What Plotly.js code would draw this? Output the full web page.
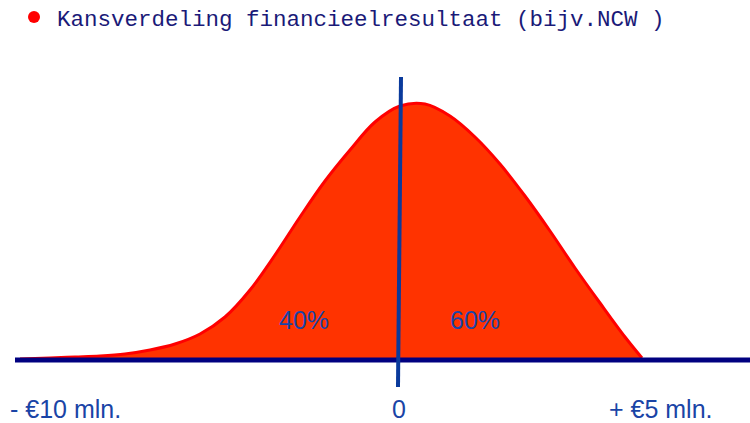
<!DOCTYPE html>
<html>
<head>
<meta charset="utf-8">
<script src="https://cdn.plot.ly/plotly-3.0.1.min.js"></script>
<style>html,body{margin:0;padding:0;background:#fff;}#chart{width:750px;height:423px;}</style>
</head>
<body>
<div id="chart"></div>
<script>
// Schematic horizontal position of the distribution (picture units, left to right)
const curveX = [20, 50, 75, 100, 125, 150, 175, 200, 225, 250, 275, 300, 325, 350, 375, 400, 425, 450, 475, 500, 525, 550, 575, 600, 625, 642];
// Probability density (relative height above the baseline)
const density = [1, 2, 3, 4, 6, 10, 16, 26, 43, 70, 105, 143, 179, 210, 238, 254, 256, 244, 223, 196, 164, 129, 92, 57, 23, 2];

const tickPositions = [65, 399, 661];
const tickLabels = ["- €10 mln.", "0", "+ €5 mln."];

const shareLabels = ["40%", "60%"];
const sharePositions = [304, 475];

const titleText = "Kansverdeling financieelresultaat (bijv.NCW )";

const textBlue = "#1a44a6";

const traces = [{
  x: curveX,
  y: density,
  type: "scatter",
  mode: "lines",
  fill: "tozeroy",
  fillcolor: "#ff3300",
  line: {color: "#ff0000", width: 3, shape: "spline", smoothing: 1},
  hoverinfo: "skip",
  showlegend: false
}];

const annotations = [];
tickLabels.forEach((t, i) => annotations.push({
  x: tickPositions[i], y: -49, xref: "x", yref: "y",
  text: t, showarrow: false, xanchor: "center", yanchor: "middle",
  font: {family: "Liberation Sans, Arial, sans-serif", size: 25, color: textBlue}
}));
shareLabels.forEach((t, i) => annotations.push({
  x: sharePositions[i], y: 40, xref: "x", yref: "y",
  text: t, showarrow: false, xanchor: "center", yanchor: "middle",
  font: {family: "Liberation Sans, Arial, sans-serif", size: 25, color: textBlue}
}));
annotations.push({
  x: 55, y: 340, xref: "x", yref: "y",
  text: titleText, showarrow: false, xanchor: "left", yanchor: "middle",
  font: {family: "Liberation Mono, Courier New, monospace", size: 22.5, color: "#1a1a78"}
});

const layout = {
  width: 750, height: 423,
  margin: {l: 0, r: 0, t: 0, b: 0, pad: 0},
  paper_bgcolor: "#ffffff", plot_bgcolor: "#ffffff",
  showlegend: false,
  xaxis: {range: [0, 750], visible: false, fixedrange: true},
  yaxis: {range: [-63, 360], visible: false, fixedrange: true},
  shapes: [
    {type: "line", xref: "x", yref: "y", x0: 15, x1: 750, y0: 0, y1: 0,
     line: {color: "#000080", width: 5}},
    {type: "line", xref: "x", yref: "y", x0: 401, x1: 398, y0: 283, y1: -27,
     line: {color: "#0a3a9c", width: 4}},
    {type: "circle", xref: "x", yref: "y", x0: 28, x1: 40, y0: 337, y1: 349,
     fillcolor: "#ff0000", line: {width: 0}}
  ],
  annotations: annotations
};

Plotly.newPlot("chart", traces, layout, {staticPlot: true, displayModeBar: false});
</script>
</body>
</html>
